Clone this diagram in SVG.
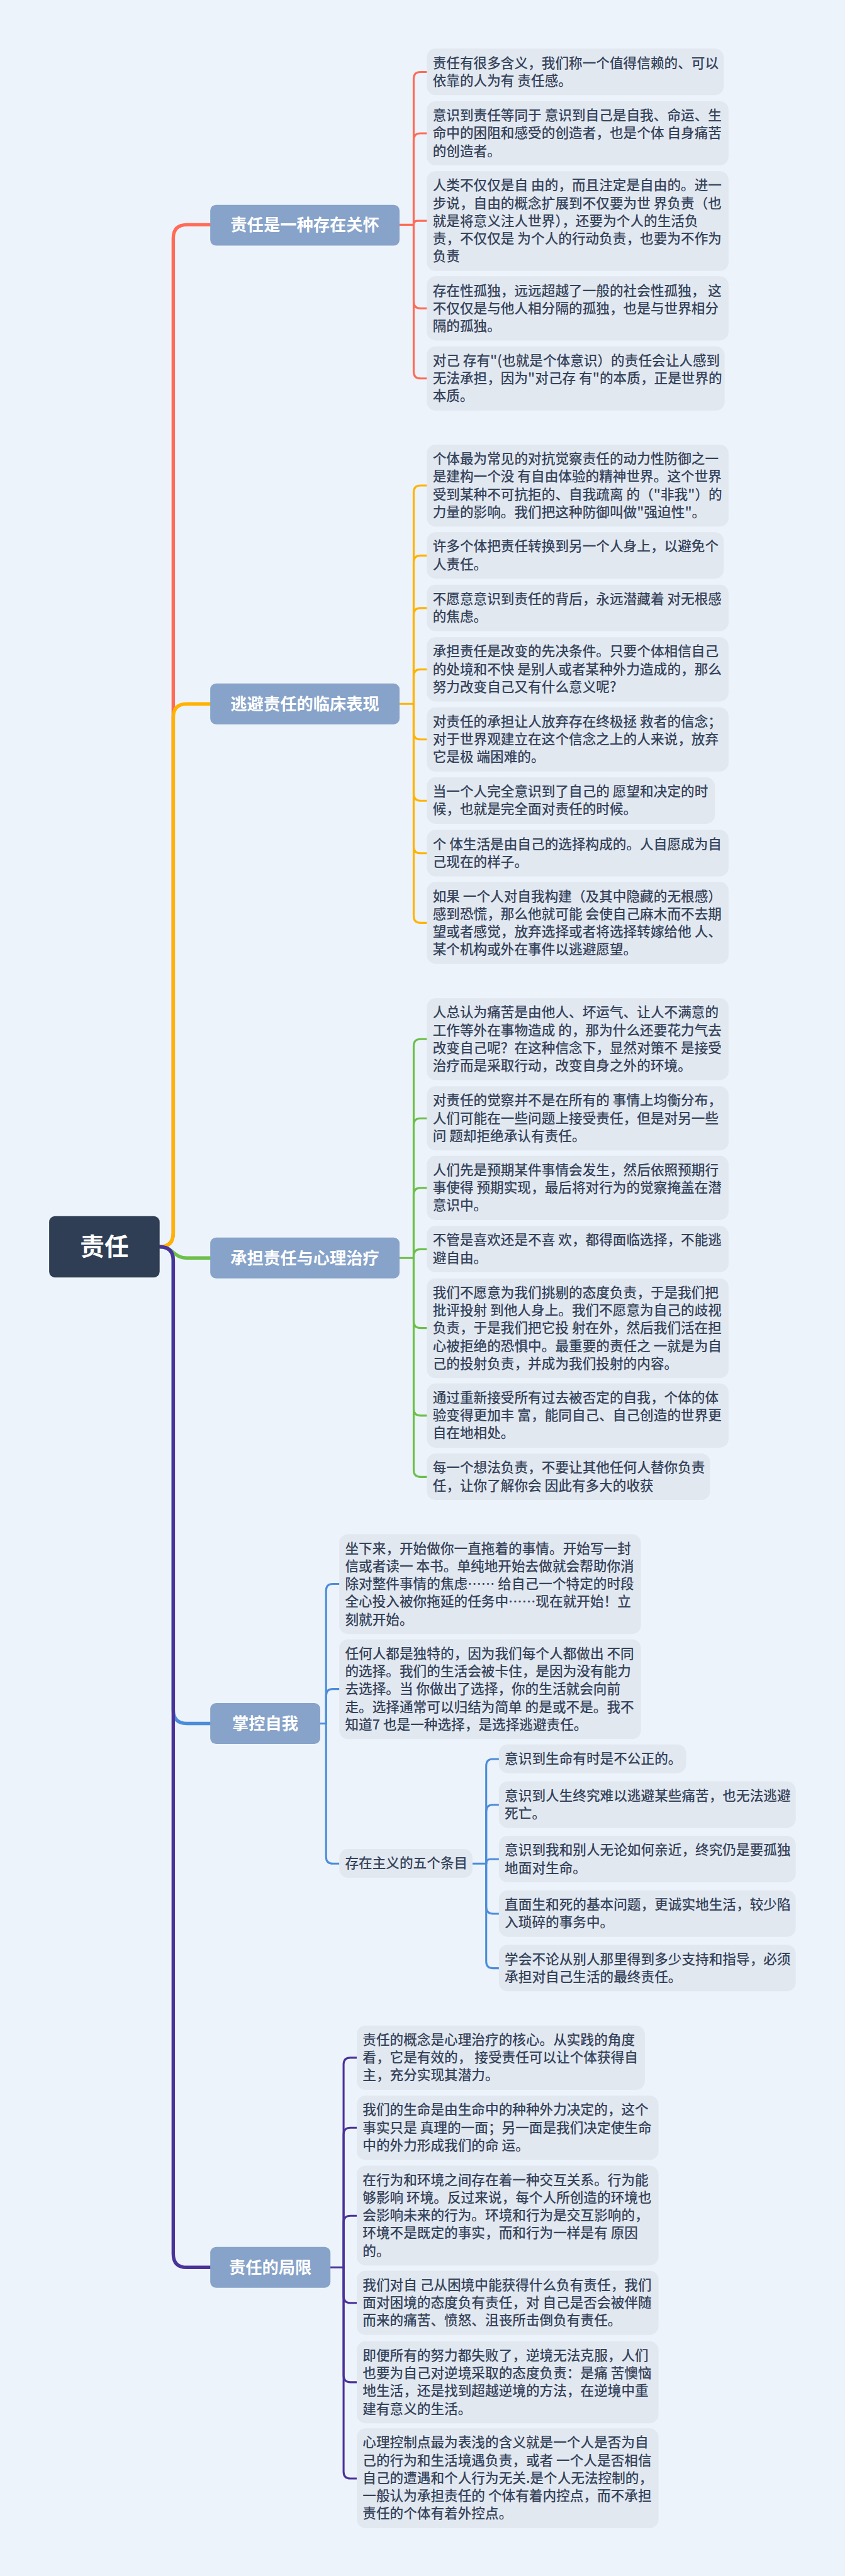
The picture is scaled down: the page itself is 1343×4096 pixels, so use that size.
<svg xmlns="http://www.w3.org/2000/svg" width="1343" height="4096" viewBox="0 0 1343 4096">
<style>
.bg{fill:#edf3fa}
.leaf rect{fill:#e2e8f0}
.leaf text{font-family:"Noto Sans CJK SC","Noto Sans",sans-serif;font-size:28px;fill:#36445b;font-weight:500}
.br rect{fill:#87a3c9}
.br text{font-family:"Noto Sans CJK SC","Noto Sans",sans-serif;font-size:34px;fill:#ffffff;font-weight:700;text-anchor:middle}
.root rect{fill:#2f3e54}
.root text{font-family:"Noto Sans CJK SC","Noto Sans",sans-serif;font-size:50px;fill:#ffffff;font-weight:700;text-anchor:middle}
path{fill:none;stroke-linecap:round;stroke-linejoin:round}
.lk{stroke-width:4}
.mn{stroke-width:7}
.c1{stroke:#ff6b57}
.c2{stroke:#ffb300}
.c3{stroke:#6cc04a}
.c4{stroke:#4c8ddb}
.c5{stroke:#4a3399}
</style>
<rect class="bg" width="1343" height="4096"/>
<g transform="scale(0.7735)">
<g id="connectors">
<path class="mn c1" d="M328,2563 Q356,2563 356,2535 V490 Q356,462 384,462 H432"/>
<path class="mn c2" d="M328,2563 Q356,2563 356,2535 V1475 Q356,1447 384,1447 H432"/>
<path class="mn c3" d="M328,2563 C356,2563 356,2586 384,2586 H432"/>
<path class="mn c4" d="M328,2563 Q356,2563 356,2591 V3515 Q356,3543 384,3543 H432"/>
<path class="mn c5" d="M328,2563 Q356,2563 356,2591 V4633 Q356,4661 384,4661 H432"/>
<path class="lk c1" d="M821,462 H850"/>
<path class="lk c1" d="M850,462 V162 Q850,148 864,148 H877"/>
<path class="lk c1" d="M850,462 V288 Q850,274 864,274 H877"/>
<path class="lk c1" d="M850,462 Q850,454 858,454 H877"/>
<path class="lk c1" d="M850,462 V620 Q850,634 864,634 H877"/>
<path class="lk c1" d="M850,462 V764 Q850,778 864,778 H877"/>
<path class="lk c2" d="M821,1447 H850"/>
<path class="lk c2" d="M850,1447 V1012 Q850,998 864,998 H877"/>
<path class="lk c2" d="M850,1447 V1156 Q850,1142 864,1142 H877"/>
<path class="lk c2" d="M850,1447 V1264 Q850,1250 864,1250 H877"/>
<path class="lk c2" d="M850,1447 V1390 Q850,1376 864,1376 H877"/>
<path class="lk c2" d="M850,1447 V1506 Q850,1520 864,1520 H877"/>
<path class="lk c2" d="M850,1447 V1632 Q850,1646 864,1646 H877"/>
<path class="lk c2" d="M850,1447 V1740 Q850,1754 864,1754 H877"/>
<path class="lk c2" d="M850,1447 V1883 Q850,1897 864,1897 H877"/>
<path class="lk c3" d="M821,2586 H850"/>
<path class="lk c3" d="M850,2586 V2150 Q850,2136 864,2136 H877"/>
<path class="lk c3" d="M850,2586 V2313 Q850,2299 864,2299 H877"/>
<path class="lk c3" d="M850,2586 V2456 Q850,2442 864,2442 H877"/>
<path class="lk c3" d="M850,2586 V2582 Q850,2568 864,2568 H877"/>
<path class="lk c3" d="M850,2586 V2716 Q850,2730 864,2730 H877"/>
<path class="lk c3" d="M850,2586 V2896 Q850,2910 864,2910 H877"/>
<path class="lk c3" d="M850,2586 V3022 Q850,3036 864,3036 H877"/>
<path class="lk c4" d="M658,3543 H670"/>
<path class="lk c4" d="M670,3543 V3270 Q670,3256 684,3256 H697"/>
<path class="lk c4" d="M670,3543 V3486 Q670,3472 684,3472 H697"/>
<path class="lk c4" d="M670,3543 V3817 Q670,3831 684,3831 H697"/>
<path class="lk c4" d="M971,3831 H999"/>
<path class="lk c4" d="M999,3831 V3630 Q999,3616 1013,3616 H1025"/>
<path class="lk c4" d="M999,3831 V3724 Q999,3710 1013,3710 H1025"/>
<path class="lk c4" d="M999,3831 Q999,3822 1008,3822 H1025"/>
<path class="lk c4" d="M999,3831 V3920 Q999,3934 1013,3934 H1025"/>
<path class="lk c4" d="M999,3831 V4032 Q999,4046 1013,4046 H1025"/>
<path class="lk c5" d="M679,4661 H706"/>
<path class="lk c5" d="M706,4661 V4244 Q706,4230 720,4230 H733"/>
<path class="lk c5" d="M706,4661 V4388 Q706,4374 720,4374 H733"/>
<path class="lk c5" d="M706,4661 V4569 Q706,4555 720,4555 H733"/>
<path class="lk c5" d="M706,4661 V4720 Q706,4734 720,4734 H733"/>
<path class="lk c5" d="M706,4661 V4883 Q706,4897 720,4897 H733"/>
<path class="lk c5" d="M706,4661 V5081 Q706,5095 720,5095 H733"/>
</g>

<g id="root" class="root"><rect x="101" y="2500" width="227" height="126" rx="12"/><text x="214.5" y="2580">责任</text></g>

<g id="n1" class="br"><rect x="432" y="421" width="389" height="84" rx="12"/><text x="626.5" y="474">责任是一种存在关怀</text></g>
<g id="n2" class="br"><rect x="432" y="1405" width="389" height="84" rx="12"/><text x="626.5" y="1459">逃避责任的临床表现</text></g>
<g id="n3" class="br"><rect x="432" y="2544" width="389" height="84" rx="12"/><text x="626.5" y="2598">承担责任与心理治疗</text></g>
<g id="n4" class="br"><rect x="432" y="3501" width="226" height="84" rx="12"/><text x="545" y="3555">掌控自我</text></g>
<g id="n5" class="br"><rect x="432" y="4619" width="247" height="84" rx="12"/><text x="555.5" y="4673">责任的局限</text></g>

<g id="b1" class="leaf"><rect x="877" y="100" width="610" height="95.5" rx="18"/><text x="889" y="139"><tspan x="889">责任有很多含义，我们称一个值得信赖的、可以</tspan><tspan x="889" dy="36.5">依靠的人为有 责任感。</tspan></text></g>
<g id="b2" class="leaf"><rect x="877" y="208" width="620" height="132" rx="18"/><text x="889" y="247"><tspan x="889">意识到责任等同于 意识到自己是自我、命运、生</tspan><tspan x="889" dy="36.5">命中的困阻和感受的创造者，也是个体 自身痛苦</tspan><tspan x="889" dy="36.5">的创造者。</tspan></text></g>
<g id="b3" class="leaf"><rect x="877" y="352" width="620" height="205" rx="18"/><text x="889" y="391"><tspan x="889">人类不仅仅是自 由的，而且注定是自由的。进一</tspan><tspan x="889" dy="36.5">步说，自由的概念扩展到不仅要为世 界负责（也</tspan><tspan x="889" dy="36.5">就是将意义注人世界），还要为个人的生活负</tspan><tspan x="889" dy="36.5">责，不仅仅是 为个人的行动负责，也要为不作为</tspan><tspan x="889" dy="36.5">负责</tspan></text></g>
<g id="b4" class="leaf"><rect x="877" y="568" width="620" height="132" rx="18"/><text x="889" y="607"><tspan x="889">存在性孤独，远远超越了一般的社会性孤独， 这</tspan><tspan x="889" dy="36.5">不仅仅是与他人相分隔的孤独，也是与世界相分</tspan><tspan x="889" dy="36.5">隔的孤独。</tspan></text></g>
<g id="b5" class="leaf"><rect x="877" y="712" width="612" height="132" rx="18"/><text x="889" y="751"><tspan x="889">对己 存有"(也就是个体意识）的责任会让人感到</tspan><tspan x="889" dy="36.5">无法承担，因为"对己存 有"的本质，正是世界的</tspan><tspan x="889" dy="36.5">本质。</tspan></text></g>

<g id="b6" class="leaf"><rect x="877" y="914" width="620" height="168.5" rx="18"/><text x="889" y="953"><tspan x="889">个体最为常见的对抗觉察责任的动力性防御之一</tspan><tspan x="889" dy="36.5">是建构一个没 有自由体验的精神世界。这个世界</tspan><tspan x="889" dy="36.5">受到某种不可抗拒的、自我疏离 的（"非我"）的</tspan><tspan x="889" dy="36.5">力量的影响。我们把这种防御叫做"强迫性"。</tspan></text></g>
<g id="b7" class="leaf"><rect x="877" y="1094" width="610" height="95.5" rx="18"/><text x="889" y="1133"><tspan x="889">许多个体把责任转换到另一个人身上，以避免个</tspan><tspan x="889" dy="36.5">人责任。</tspan></text></g>
<g id="b8" class="leaf"><rect x="877" y="1202" width="620" height="95.5" rx="18"/><text x="889" y="1241"><tspan x="889">不愿意意识到责任的背后，永远潜藏着 对无根感</tspan><tspan x="889" dy="36.5">的焦虑。</tspan></text></g>
<g id="b9" class="leaf"><rect x="877" y="1310" width="620" height="132" rx="18"/><text x="889" y="1349"><tspan x="889">承担责任是改变的先决条件。只要个体相信自己</tspan><tspan x="889" dy="36.5">的处境和不快 是别人或者某种外力造成的，那么</tspan><tspan x="889" dy="36.5">努力改变自己又有什么意义呢?</tspan></text></g>
<g id="b10" class="leaf"><rect x="877" y="1454" width="620" height="132" rx="18"/><text x="889" y="1493"><tspan x="889">对责任的承担让人放弃存在终极拯 救者的信念；</tspan><tspan x="889" dy="36.5">对于世界观建立在这个信念之上的人来说，放弃</tspan><tspan x="889" dy="36.5">它是极 端困难的。</tspan></text></g>
<g id="b11" class="leaf"><rect x="877" y="1598" width="592" height="95.5" rx="18"/><text x="889" y="1637"><tspan x="889">当一个人完全意识到了自己的 愿望和决定的时</tspan><tspan x="889" dy="36.5">候，也就是完全面对责任的时候。</tspan></text></g>
<g id="b12" class="leaf"><rect x="877" y="1706" width="620" height="95.5" rx="18"/><text x="889" y="1745"><tspan x="889">个 体生活是由自己的选择构成的。人自愿成为自</tspan><tspan x="889" dy="36.5">己现在的样子。</tspan></text></g>
<g id="b13" class="leaf"><rect x="877" y="1813" width="620" height="168.5" rx="18"/><text x="889" y="1852"><tspan x="889">如果 一个人对自我构建（及其中隐藏的无根感）</tspan><tspan x="889" dy="36.5">感到恐慌，那么他就可能 会使自己麻木而不去期</tspan><tspan x="889" dy="36.5">望或者感觉，放弃选择或者将选择转嫁给他 人、</tspan><tspan x="889" dy="36.5">某个机构或外在事件以逃避愿望。</tspan></text></g>

<g id="b14" class="leaf"><rect x="877" y="2052" width="620" height="168.5" rx="18"/><text x="889" y="2091"><tspan x="889">人总认为痛苦是由他人、坏运气、让人不满意的</tspan><tspan x="889" dy="36.5">工作等外在事物造成 的，那为什么还要花力气去</tspan><tspan x="889" dy="36.5">改变自己呢？在这种信念下，显然对策不 是接受</tspan><tspan x="889" dy="36.5">治疗而是采取行动，改变自身之外的环境。</tspan></text></g>
<g id="b15" class="leaf"><rect x="877" y="2233" width="620" height="132" rx="18"/><text x="889" y="2272"><tspan x="889">对责任的觉察并不是在所有的 事情上均衡分布，</tspan><tspan x="889" dy="36.5">人们可能在一些问题上接受责任，但是对另一些</tspan><tspan x="889" dy="36.5">问 题却拒绝承认有责任。</tspan></text></g>
<g id="b16" class="leaf"><rect x="877" y="2376" width="620" height="132" rx="18"/><text x="889" y="2415"><tspan x="889">人们先是预期某件事情会发生，然后依照预期行</tspan><tspan x="889" dy="36.5">事使得 预期实现，最后将对行为的觉察掩盖在潜</tspan><tspan x="889" dy="36.5">意识中。</tspan></text></g>
<g id="b17" class="leaf"><rect x="877" y="2520" width="620" height="95.5" rx="18"/><text x="889" y="2559"><tspan x="889">不管是喜欢还是不喜 欢，都得面临选择，不能逃</tspan><tspan x="889" dy="36.5">避自由。</tspan></text></g>
<g id="b18" class="leaf"><rect x="877" y="2628" width="620" height="205" rx="18"/><text x="889" y="2667"><tspan x="889">我们不愿意为我们挑剔的态度负责，于是我们把</tspan><tspan x="889" dy="36.5">批评投射 到他人身上。我们不愿意为自己的歧视</tspan><tspan x="889" dy="36.5">负责，于是我们把它投 射在外，然后我们活在担</tspan><tspan x="889" dy="36.5">心被拒绝的恐惧中。最重要的责任之 一就是为自</tspan><tspan x="889" dy="36.5">己的投射负责，并成为我们投射的内容。</tspan></text></g>
<g id="b19" class="leaf"><rect x="877" y="2844" width="620" height="132" rx="18"/><text x="889" y="2883"><tspan x="889">通过重新接受所有过去被否定的自我，个体的体</tspan><tspan x="889" dy="36.5">验变得更加丰 富，能同自己、自己创造的世界更</tspan><tspan x="889" dy="36.5">自在地相处。</tspan></text></g>
<g id="b20" class="leaf"><rect x="877" y="2988" width="582" height="95.5" rx="18"/><text x="889" y="3027"><tspan x="889">每一个想法负责，不要让其他任何人替你负责</tspan><tspan x="889" dy="36.5">任，让你了解你会 因此有多大的收获</tspan></text></g>

<g id="b21" class="leaf"><rect x="697" y="3154" width="620" height="205" rx="18"/><text x="709" y="3193"><tspan x="709">坐下来，开始做你一直拖着的事情。开始写一封</tspan><tspan x="709" dy="36.5">信或者读一 本书。单纯地开始去做就会帮助你消</tspan><tspan x="709" dy="36.5">除对整件事情的焦虑…… 给自己一个特定的时段</tspan><tspan x="709" dy="36.5">全心投入被你拖延的任务中……现在就开始！立</tspan><tspan x="709" dy="36.5">刻就开始。</tspan></text></g>
<g id="b22" class="leaf"><rect x="697" y="3370" width="620" height="205" rx="18"/><text x="709" y="3409"><tspan x="709">任何人都是独特的，因为我们每个人都做出 不同</tspan><tspan x="709" dy="36.5">的选择。我们的生活会被卡住，是因为没有能力</tspan><tspan x="709" dy="36.5">去选择。当 你做出了选择，你的生活就会向前</tspan><tspan x="709" dy="36.5">走。选择通常可以归结为简单 的是或不是。我不</tspan><tspan x="709" dy="36.5">知道7 也是一种选择，是选择逃避责任。</tspan></text></g>
<g id="e0" class="leaf"><rect x="697" y="3801" width="274" height="59" rx="18"/><text x="709" y="3840">存在主义的五个条目</text></g>
<g id="s1" class="leaf"><rect x="1025" y="3586" width="385" height="59" rx="18"/><text x="1037" y="3625">意识到生命有时是不公正的。</text></g>
<g id="s2" class="leaf"><rect x="1025" y="3662" width="610" height="95.5" rx="18"/><text x="1037" y="3701"><tspan x="1037">意识到人生终究难以逃避某些痛苦，也无法逃避</tspan><tspan x="1037" dy="36.5">死亡。</tspan></text></g>
<g id="s3" class="leaf"><rect x="1025" y="3774" width="610" height="95.5" rx="18"/><text x="1037" y="3813"><tspan x="1037">意识到我和别人无论如何亲近，终究仍是要孤独</tspan><tspan x="1037" dy="36.5">地面对生命。</tspan></text></g>
<g id="s4" class="leaf"><rect x="1025" y="3886" width="610" height="95.5" rx="18"/><text x="1037" y="3925"><tspan x="1037">直面生和死的基本问题，更诚实地生活，较少陷</tspan><tspan x="1037" dy="36.5">入琐碎的事务中。</tspan></text></g>
<g id="s5" class="leaf"><rect x="1025" y="3998" width="610" height="95.5" rx="18"/><text x="1037" y="4037"><tspan x="1037">学会不论从别人那里得到多少支持和指导，必须</tspan><tspan x="1037" dy="36.5">承担对自己生活的最终责任。</tspan></text></g>

<g id="p1" class="leaf"><rect x="733" y="4164" width="592" height="132" rx="18"/><text x="745" y="4203"><tspan x="745">责任的概念是心理治疗的核心。从实践的角度</tspan><tspan x="745" dy="36.5">看，它是有效的， 接受责任可以让个体获得自</tspan><tspan x="745" dy="36.5">主，充分实现其潜力。</tspan></text></g>
<g id="p2" class="leaf"><rect x="733" y="4308" width="620" height="132" rx="18"/><text x="745" y="4347"><tspan x="745">我们的生命是由生命中的种种外力决定的，这个</tspan><tspan x="745" dy="36.5">事实只是 真理的一面；另一面是我们决定使生命</tspan><tspan x="745" dy="36.5">中的外力形成我们的命 运。</tspan></text></g>
<g id="p3" class="leaf"><rect x="733" y="4452" width="620" height="205" rx="18"/><text x="745" y="4491"><tspan x="745">在行为和环境之间存在着一种交互关系。行为能</tspan><tspan x="745" dy="36.5">够影响 环境。反过来说，每个人所创造的环境也</tspan><tspan x="745" dy="36.5">会影响未来的行为。环境和行为是交互影响的，</tspan><tspan x="745" dy="36.5">环境不是既定的事实，而和行为一样是有 原因</tspan><tspan x="745" dy="36.5">的。</tspan></text></g>
<g id="p4" class="leaf"><rect x="733" y="4668" width="620" height="132" rx="18"/><text x="745" y="4707"><tspan x="745">我们对自 己从困境中能获得什么负有责任，我们</tspan><tspan x="745" dy="36.5">面对困境的态度负有责任，对 自己是否会被伴随</tspan><tspan x="745" dy="36.5">而来的痛苦、愤怒、沮丧所击倒负有责任。</tspan></text></g>
<g id="p5" class="leaf"><rect x="733" y="4813" width="620" height="168.5" rx="18"/><text x="745" y="4852"><tspan x="745">即便所有的努力都失败了，逆境无法克服，人们</tspan><tspan x="745" dy="36.5">也要为自己对逆境采取的态度负责：是痛 苦懊恼</tspan><tspan x="745" dy="36.5">地生活，还是找到超越逆境的方法，在逆境中重</tspan><tspan x="745" dy="36.5">建有意义的生活。</tspan></text></g>
<g id="p6" class="leaf"><rect x="733" y="4992" width="620" height="205" rx="18"/><text x="745" y="5031"><tspan x="745">心理控制点最为表浅的含义就是一个人是否为自</tspan><tspan x="745" dy="36.5">己的行为和生活境遇负责，或者 一个人是否相信</tspan><tspan x="745" dy="36.5">自己的遭遇和个人行为无关.是个人无法控制的，</tspan><tspan x="745" dy="36.5">一般认为承担责任的 个体有着内控点，而不承担</tspan><tspan x="745" dy="36.5">责任的个体有着外控点。</tspan></text></g>
</g>
</svg>
